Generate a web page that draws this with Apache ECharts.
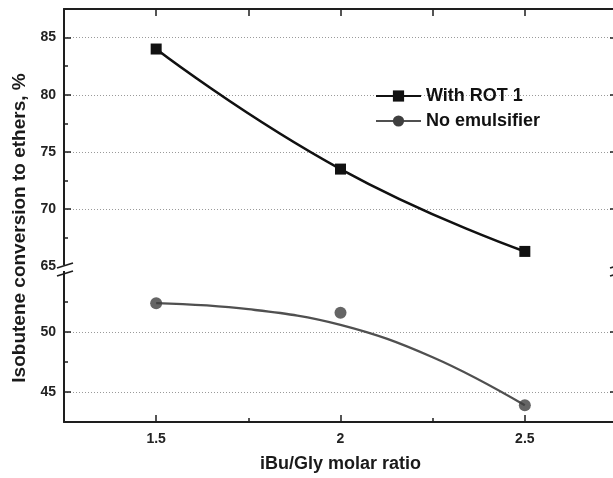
<!DOCTYPE html>
<html><head><meta charset="utf-8">
<script src="https://cdn.jsdelivr.net/npm/echarts@6/dist/echarts.min.js"></script>
<style>html,body{margin:0;padding:0;background:#fff}#c{width:613px;height:478px}</style>
</head><body><div id="c"></div>
<script>
// ---- data ----
const ratios = [1.5, 2, 2.5];
const withRot1 = [84.0, 73.5, 66.3];
const noEmulsifier = [52.4, 51.6, 43.9];
const fitRatios = [1.5, 1.75, 2, 2.25, 2.5];
const noEmulsifierFit = [52.4, 51.9, 50.6, 47.9, 43.9];
// ---- ticks / labels ----
const xMajorTicks = [1.5, 2, 2.5];
const xMinorTicks = [1.75, 2.25];
const upperMajor = [70, 75, 80, 85];
const upperLabels = [65, 70, 75, 80, 85];
const upperMinor = [67.5, 72.5, 77.5, 82.5];
const lowerMajor = [45, 50];
const lowerMinor = [47.5, 52.5];
const seriesNames = ['With ROT 1', 'No emulsifier'];
const xTitle = 'iBu/Gly molar ratio';
const yTitle = 'Isobutene conversion to ethers, %';

const FONT = '"Liberation Sans", Arial, sans-serif';
const AX = '#1e1e1e';
const X_MIN = 1.25, X_MAX = 2.75;
const UP_MIN = 64.5, UP_MAX = 87.5, LO_MIN = 42.5, LO_MAX = 55;

const chart = echarts.init(document.getElementById('c'), null, {renderer: 'canvas'});
const lbl = {fontSize: 14, fontWeight: 'bold', color: '#222', fontFamily: FONT};
const split = {show: true, lineStyle: {color: '#9a9a9a', width: 1, type: [1, 2]}};
const axLine = {show: true, onZero: false, lineStyle: {color: AX, width: 2}};
const tick = (vals, len) => ({show: true, inside: true, length: len, customValues: vals, lineStyle: {color: AX, width: 1.5}});
const off = {show: false};

const gUp = {left: 64, width: 553, top: 9, height: 263, outerBoundsMode: 'none', containLabel: false};
const gLo = {left: 64, width: 553, top: 272, height: 150, outerBoundsMode: 'none', containLabel: false};

const option = {
  animation: false,
  backgroundColor: '#fff',
  grid: [gUp, gLo, Object.assign({}, gUp), Object.assign({}, gLo)],
  xAxis: [
    {gridIndex: 0, type: 'value', min: X_MIN, max: X_MAX, position: 'top', axisLine: axLine,
     axisTick: tick(xMajorTicks.concat(xMinorTicks), 7), axisLabel: off, splitLine: off},
    {gridIndex: 1, type: 'value', min: X_MIN, max: X_MAX, position: 'bottom', axisLine: axLine,
     axisTick: tick(xMajorTicks, 7), axisLabel: Object.assign({customValues: xMajorTicks, margin: 10}, lbl), splitLine: off,
     name: xTitle, nameLocation: 'middle', nameGap: 33,
     nameTextStyle: {fontSize: 18, fontWeight: 'bold', color: '#1a1a1a', fontFamily: FONT}},
    {gridIndex: 2, type: 'value', min: X_MIN, max: X_MAX, show: false},
    {gridIndex: 3, type: 'value', min: X_MIN, max: X_MAX, position: 'bottom', axisLine: {show: false},
     axisTick: tick(xMinorTicks, 4), axisLabel: off, splitLine: off}
  ],
  yAxis: [
    {gridIndex: 0, type: 'value', min: UP_MIN, max: UP_MAX, position: 'left', axisLine: axLine,
     axisTick: tick(upperMajor, 7), axisLabel: Object.assign({customValues: upperLabels, margin: 8}, lbl), splitLine: split},
    {gridIndex: 0, type: 'value', min: UP_MIN, max: UP_MAX, position: 'right', axisLine: axLine,
     axisTick: tick(upperMajor, 7), axisLabel: off, splitLine: off},
    {gridIndex: 1, type: 'value', min: LO_MIN, max: LO_MAX, position: 'left', axisLine: axLine,
     axisTick: tick(lowerMajor, 7), axisLabel: Object.assign({customValues: lowerMajor, margin: 8}, lbl), splitLine: split},
    {gridIndex: 1, type: 'value', min: LO_MIN, max: LO_MAX, position: 'right', axisLine: axLine,
     axisTick: tick(lowerMajor, 7), axisLabel: off, splitLine: off},
    {gridIndex: 2, type: 'value', min: UP_MIN, max: UP_MAX, position: 'left', axisLine: {show: false},
     axisTick: tick(upperMinor, 4), axisLabel: off, splitLine: off},
    {gridIndex: 3, type: 'value', min: LO_MIN, max: LO_MAX, position: 'left', axisLine: {show: false},
     axisTick: tick(lowerMinor, 4), axisLabel: off, splitLine: off}
  ],
  legend: {
    data: seriesNames, orient: 'vertical', left: 375, top: 87, padding: 0,
    itemWidth: 45, itemHeight: 14, itemGap: 7,
    textStyle: {fontSize: 18, fontWeight: 'bold', color: '#111', fontFamily: FONT, lineHeight: 18}
  },
  series: [
    {name: seriesNames[0], type: 'line', xAxisIndex: 0, yAxisIndex: 0,
     data: ratios.map((r, i) => [r, withRot1[i]]), smooth: true,
     symbol: 'rect', symbolSize: 11, itemStyle: {color: '#111'}, lineStyle: {color: '#111', width: 2.6}, z: 3},
    {name: seriesNames[1], type: 'line', xAxisIndex: 1, yAxisIndex: 2,
     data: fitRatios.map((r, i) => [r, noEmulsifierFit[i]]), smooth: 0.4,
     symbol: 'circle', symbolSize: 12, showSymbol: false,
     itemStyle: {color: '#3f3f3f'}, lineStyle: {color: '#505050', width: 2.3}, z: 2},
    {name: 'points', type: 'scatter', xAxisIndex: 1, yAxisIndex: 2,
     data: ratios.map((r, i) => [r, noEmulsifier[i]]), symbol: 'circle', symbolSize: 12,
     itemStyle: {color: '#3f3f3f'}, z: 3}
  ]
};
chart.setOption(option);

// axis-break marks and rotated y title
function breakMark(p) {
  const x = p[0], y = p[1];
  return [
    {type: 'rect', shape: {x: x - 3, y: y - 7, width: 6, height: 6}, style: {fill: '#fff'}, z: 100},
    {type: 'line', shape: {x1: x - 7, y1: y - 4, x2: x + 9, y2: y - 9}, style: {stroke: AX, lineWidth: 1.6}, z: 101},
    {type: 'line', shape: {x1: x - 7, y1: y + 4, x2: x + 9, y2: y - 1}, style: {stroke: AX, lineWidth: 1.6}, z: 101}
  ];
}
const pl = chart.convertToPixel({gridIndex: 0}, [X_MIN, UP_MIN]);
const pr = chart.convertToPixel({gridIndex: 0}, [X_MAX, UP_MIN]);
chart.setOption({graphic: breakMark(pl).concat(breakMark(pr)).concat([
  {type: 'text', x: 20, y: 228, rotation: Math.PI / 2,
   style: {text: yTitle, fontSize: 19, fontWeight: 'bold', fill: '#1a1a1a', fontFamily: FONT,
           align: 'center', verticalAlign: 'middle'}, z: 100}
])});
</script></body></html>
